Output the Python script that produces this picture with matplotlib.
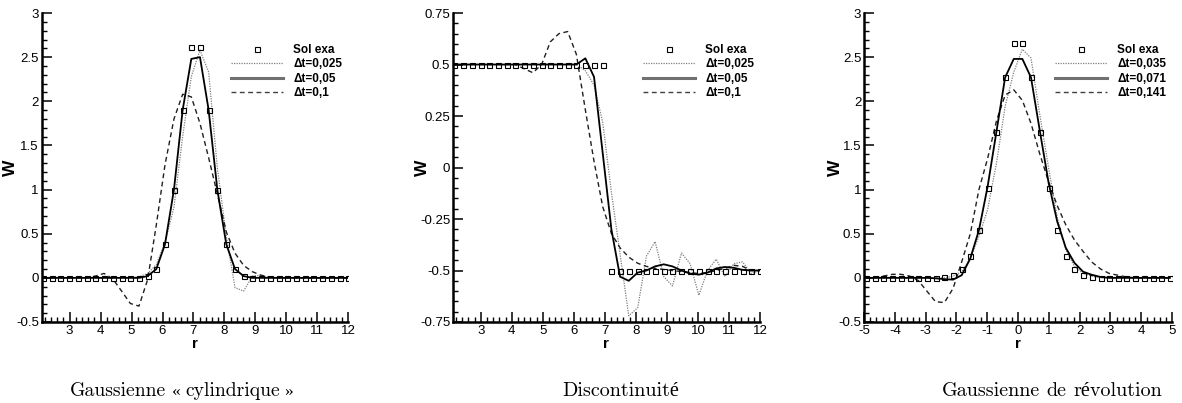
import numpy as np
import matplotlib
matplotlib.use("Agg")
import matplotlib.pyplot as plt
from matplotlib.lines import Line2D
from matplotlib.ticker import MultipleLocator, FuncFormatter

plt.rcParams['font.family'] = ['Liberation Sans', 'DejaVu Sans']

# mesh points (r) for the plane cases and the revolution case
r_plan = [2.14, 2.42, 2.70, 2.99, 3.27, 3.55, 3.83, 4.11, 4.39, 4.68, 4.96, 5.24,
          5.52, 5.80, 6.08, 6.37, 6.65, 6.93, 7.21, 7.49, 7.77, 8.06, 8.34, 8.62,
          8.90, 9.18, 9.47, 9.75, 10.03, 10.31, 10.59, 10.87, 11.16, 11.44, 11.72, 12.00]
r_rev = [-4.93, -4.65, -4.37, -4.08, -3.80, -3.52, -3.24, -2.96, -2.68, -2.39, -2.11, -1.83,
         -1.55, -1.27, -0.99, -0.70, -0.42, -0.14, 0.14, 0.42, 0.70, 0.99, 1.27, 1.55,
         1.83, 2.11, 2.39, 2.68, 2.96, 3.24, 3.52, 3.80, 4.08, 4.37, 4.65, 4.93]

# Gaussienne cylindrique
cyl_exa = [0, 0, 0, 0, 0, 0, 0, 0, 0, 0, 0, 0,
           0.02, 0.10, 0.38, 1.00, 1.90, 2.62, 2.62, 1.90, 1.00, 0.38, 0.10, 0.02,
           0, 0, 0, 0, 0, 0, 0, 0, 0, 0, 0, 0]
cyl_025 = [0, 0, 0, 0, 0, 0, 0, 0, 0, 0, 0, 0.01,
           0.05, 0.15, 0.40, 0.80, 1.60, 2.28, 2.58, 2.33, 1.25, 0.47, -0.11, -0.15,
           0.02, 0.03, 0, 0, 0, 0, 0, 0, 0, 0, 0, 0]
cyl_05 = [0, 0, 0, 0, 0, 0, 0, 0, 0, 0, 0, 0,
          0.02, 0.10, 0.38, 1.00, 1.90, 2.48, 2.50, 1.90, 1.00, 0.38, 0.10, 0.02,
          0, 0, 0, 0, 0, 0, 0, 0, 0, 0, 0, 0]
cyl_1 = [0, 0, 0, 0, 0, 0, 0.02, 0.05, -0.01, -0.15, -0.29, -0.32,
         -0.02, 0.60, 1.28, 1.80, 2.08, 2.05, 1.75, 1.36, 0.95, 0.52, 0.28, 0.14,
         0.07, 0.03, 0.01, 0, 0, 0, 0, 0, 0, 0, 0, 0]

# Discontinuite
dis_exa = [0.5] * 18 + [-0.5] * 18
dis_025 = [0.5, 0.5, 0.5, 0.5, 0.5, 0.5, 0.5, 0.5, 0.5, 0.5, 0.5, 0.5,
           0.5, 0.5, 0.5, 0.47, 0.40, 0.22, -0.12, -0.42, -0.72, -0.68, -0.43, -0.36,
           -0.53, -0.575, -0.415, -0.467, -0.62, -0.50, -0.445, -0.53, -0.467, -0.458, -0.515, -0.50]
dis_05 = [0.5, 0.5, 0.5, 0.5, 0.5, 0.5, 0.5, 0.5, 0.5, 0.5, 0.5, 0.5,
          0.5, 0.5, 0.5, 0.53, 0.44, 0.07, -0.30, -0.53, -0.55, -0.51, -0.50, -0.48,
          -0.47, -0.48, -0.50, -0.515, -0.52, -0.51, -0.49, -0.483, -0.487, -0.497, -0.50, -0.50]
dis_1 = [0.5, 0.5, 0.5, 0.5, 0.5, 0.5, 0.5, 0.50, 0.48, 0.46, 0.50, 0.61,
         0.65, 0.66, 0.55, 0.28, 0.03, -0.19, -0.32, -0.39, -0.435, -0.465, -0.48, -0.49,
         -0.495, -0.50, -0.505, -0.51, -0.515, -0.51, -0.50, -0.49, -0.475, -0.48, -0.50, -0.50]

# Gaussienne de revolution
rev_exa = [0, 0, 0, 0, 0, 0, 0, 0, 0, 0.01, 0.03, 0.10,
           0.25, 0.54, 1.02, 1.65, 2.27, 2.66, 2.66, 2.27, 1.65, 1.02, 0.54, 0.25,
           0.10, 0.03, 0.01, 0, 0, 0, 0, 0, 0, 0, 0, 0]
rev_035 = [0, 0, 0, 0, 0, 0, 0, 0, 0, 0.0, 0.02, 0.07,
           0.22, 0.47, 0.77, 1.30, 1.94, 2.33, 2.59, 2.49, 1.86, 1.25, 0.69, 0.32,
           0.13, 0.05, 0.02, 0, 0, 0, 0, 0, 0, 0, 0, 0]
rev_071 = [0, 0, 0, 0, 0, 0, 0, 0, -0.005, -0.015, -0.02, 0.03,
           0.22, 0.54, 1.03, 1.66, 2.27, 2.48, 2.48, 2.27, 1.68, 1.08, 0.64, 0.34,
           0.17, 0.07, 0.035, 0.01, 0, 0, 0, 0, 0, 0, 0, 0]
rev_141 = [0, 0, 0.02, 0.04, 0.04, 0.02, -0.03, -0.15, -0.27, -0.28, -0.12, 0.18,
           0.50, 1.00, 1.35, 1.78, 2.07, 2.13, 2.01, 1.75, 1.41, 1.09, 0.82, 0.60,
           0.43, 0.30, 0.18, 0.10, 0.05, 0.03, 0.01, 0, 0, 0, 0, 0]

labels_plan = ["Sol exa", "Δt=0,025", "Δt=0,05", "Δt=0,1"]
labels_rev = ["Sol exa", "Δt=0,035", "Δt=0,071", "Δt=0,141"]

CM = ["cmr10", "Liberation Serif", "DejaVu Serif"]
SERIF = ["Liberation Serif", "DejaVu Serif"]
# caption pieces: (text, family, size); None = word gap, number = gap in px
captions = [
    [("Gaussienne", CM, 14.2), None, ("«", SERIF, 12.5), 4, ("cylindrique", CM, 14.2), 4, ("»", SERIF, 12.5)],
    [("Discontinuité", CM, 14.5)],
    [("Gaussienne", CM, 14.5), None, ("de", CM, 14.5), None, ("révolution", CM, 14.5)],
]


def fmt(v, pos):
    return "%g" % v


def panel(ax, r, exa, fine, mid, coarse, labels, xlim, ylim, ymaj, ymin, wx):
    ax.plot(r, fine, color="#808080", lw=0.9, ls=(0, (1, 1)))
    ax.plot(r, coarse, color="#202020", lw=1.0, ls=(0, (3.5, 2.5)))
    ax.plot(r, mid, color="black", lw=1.3)
    ax.plot(r, exa, ls="none", marker="s", ms=3.6, mfc="none", mec="black", mew=0.8)
    ax.set_xlim(*xlim)
    ax.set_ylim(*ylim)
    ax.xaxis.set_major_locator(MultipleLocator(1))
    ax.xaxis.set_minor_locator(MultipleLocator(0.2))
    ax.yaxis.set_major_locator(MultipleLocator(ymaj))
    ax.yaxis.set_minor_locator(MultipleLocator(ymin))
    ax.xaxis.set_major_formatter(FuncFormatter(fmt))
    ax.yaxis.set_major_formatter(FuncFormatter(fmt))
    for s in ["top", "right"]:
        ax.spines[s].set_visible(False)
    for s in ["left", "bottom"]:
        ax.spines[s].set_linewidth(1.8)
    ax.tick_params(which="major", direction="in", length=7, width=1.1, labelsize=9.5, pad=2)
    ax.tick_params(which="minor", direction="in", length=3.5, width=1.0)
    ax.set_xlabel("r", fontweight="bold", fontsize=11, labelpad=0)
    ax.set_ylabel("W", fontweight="bold", fontsize=12.5)
    ax.yaxis.set_label_coords(wx, 0.5)
    handles = [
        Line2D([], [], ls="none", marker="s", ms=3.6, mfc="none", mec="black", mew=0.8),
        Line2D([], [], color="#808080", lw=0.9, ls=(0, (1, 1))),
        Line2D([], [], color="#707070", lw=2.2),
        Line2D([], [], color="#404040", lw=1.0, ls=(0, (3.5, 2.5))),
    ]
    ax.legend(handles, labels, loc="upper right", bbox_to_anchor=(1.0, 0.92),
              frameon=False, handlelength=4.4, handletextpad=0.85, labelspacing=0.22,
              borderpad=0, prop={"weight": "bold", "size": 8.5})


def caption(fig, xc, yb, parts):
    rend = fig.canvas.get_renderer()
    items = []
    for p in parts:
        if p is None:
            items.append((None, 14.5 * 100 / 72 * 0.33))
        elif isinstance(p, (int, float)):
            items.append((None, p))
        else:
            t = fig.text(0, yb / 403, p[0], ha="left", va="baseline",
                         fontsize=p[2], family=p[1])
            items.append((t, t.get_window_extent(rend).width))
    total = sum(w for _, w in items)
    x = xc - total / 2
    for t, w in items:
        if t is not None:
            t.set_x(x / 1182)
        x += w


fig = plt.figure(figsize=(11.82, 4.03), dpi=100)
ax1 = fig.add_axes([0.0353, 0.201, 0.2594, 0.7667])
ax2 = fig.add_axes([0.3832, 0.201, 0.2597, 0.7667])
ax3 = fig.add_axes([0.7310, 0.201, 0.2606, 0.7667])

panel(ax1, r_plan, cyl_exa, cyl_025, cyl_05, cyl_1, labels_plan, (2.1, 12), (-0.5, 3), 0.5, 0.1, -0.078)
panel(ax2, r_plan, dis_exa, dis_025, dis_05, dis_1, labels_plan, (2.1, 12), (-0.75, 0.75), 0.25, 0.05, -0.075)
panel(ax3, r_rev, rev_exa, rev_035, rev_071, rev_141, labels_rev, (-5, 5), (-0.5, 3), 0.5, 0.1, -0.068)

fig.canvas.draw()
for xc, parts in zip([181, 621, 1052], captions):
    caption(fig, xc, 403 - 396, parts)

fig.savefig("out.png", dpi=100)
